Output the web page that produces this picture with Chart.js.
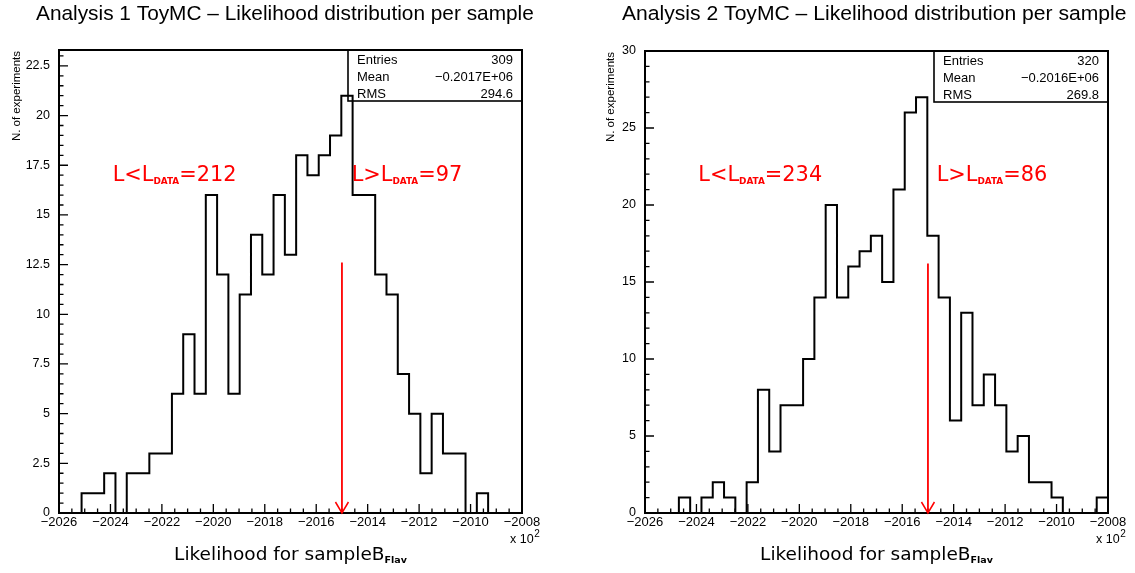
<!DOCTYPE html>
<html><head><meta charset="utf-8">
<script src="https://cdn.jsdelivr.net/npm/chart.js@4.4.0/dist/chart.umd.min.js"></script>
<style>
html,body{margin:0;padding:0;background:#fff;}
#wrap{position:relative;width:1135px;height:573px;overflow:hidden;background:#fff;}
canvas{position:absolute;top:0;}
</style></head><body>
<div id="wrap"><canvas id="c1" width="567" height="573" style="left:0"></canvas><canvas id="c2" width="568" height="573" style="left:567px"></canvas></div>
<script>
// ---------- data ----------
const titles = ['Analysis 1 ToyMC \u2013 Likelihood distribution per sample', 'Analysis 2 ToyMC \u2013 Likelihood distribution per sample'];
const xRange = [-2026, -2008];            // histogram range (x 10^2)
const xTicks = [-2026, -2024, -2022, -2020, -2018, -2016, -2014, -2012, -2010, -2008];
const yTicks1 = [0, 2.5, 5, 7.5, 10, 12.5, 15, 17.5, 20, 22.5];
const yTicks2 = [0, 5, 10, 15, 20, 25, 30];
const yMax = [23.3, 30];
const counts1 = [0,0,1,1,2,0,2,2,3,3,6,9,6,16,12,6,11,14,12,16,13,18,17,18,19,21,16,16,12,11,7,5,2,5,3,3,0,1,0,0,0];
const counts2 = [0,0,0,1,0,1,2,1,0,2,8,4,7,7,10,14,20,14,16,17,18,15,21,26,27,18,14,6,13,7,9,7,4,5,2,2,1,0,0,0,1];
const statNames = ['Entries', 'Mean', 'RMS'];
const stats1 = ['309', '\u22120.2017E+06', '294.6'];
const stats2 = ['320', '\u22120.2016E+06', '269.8'];
const cutValue = [-2015.0, -2015.0];
const arrowTop = [12.6, 16.2];
const nBelow = [212, 234];
const nAbove = [97, 86];
const xTitle = 'Likelihood for sampleB';
const xTitleSub = 'Flav';
const yTitle = 'N. of experiments';

// ---------- layout ----------
const SANS = "'Liberation Sans', Arial, sans-serif";
const GEO = "'DejaVu Sans', sans-serif";
const layout = [
  {canvas:'c1', counts:counts1, yTicks:yTicks1, yMinor:0.5, stats:stats1,
   pad:{left:0, top:50, right:45, bottom:0}, yW:59,
   titleX:36, titleW:498, yTitleX:20, belowX:112.7, aboveX:351.7},
  {canvas:'c2', counts:counts2, yTicks:yTicks2, yMinor:1, stats:stats2,
   pad:{left:0, top:51, right:27, bottom:0}, yW:78,
   titleX:55, titleW:505, yTitleX:47, belowX:131.3, aboveX:369.7}
];

function richWidth(ctx, parts, k) {
  let w = 0;
  for (const p of parts) { ctx.font = `${p.w||'normal'} ${p.s*k}px ${p.f||GEO}`; w += ctx.measureText(p.t).width; }
  return w;
}
function drawRich(ctx, x, y, parts, k, align) {
  const w = richWidth(ctx, parts, k);
  let cx = align === 'center' ? x - w/2 : x;
  ctx.textAlign = 'left'; ctx.textBaseline = 'alphabetic';
  for (const p of parts) {
    ctx.font = `${p.w||'normal'} ${p.s*k}px ${p.f||GEO}`;
    ctx.fillText(p.t, cx, y + (p.dy||0)*k);
    cx += ctx.measureText(p.t).width;
  }
}
function cutLabel(rel, n) {
  return [{t:'L' + rel + 'L', s:20}, {t:'DATA', s:8.5, w:'bold', dy:3.5}, {t:'=' + n, s:20}];
}

const rootPlugin = {
  id: 'rootStyle',
  afterDraw(chart, args, o) {
    const i = o.index, L = layout[i];
    const ctx = chart.ctx, a = chart.chartArea;
    const xs = chart.scales.x, ys = chart.scales.y;
    ctx.save();
    // frame
    ctx.strokeStyle = '#000'; ctx.lineWidth = 2;
    ctx.strokeRect(a.left, a.top, a.right - a.left, a.bottom - a.top);
    // ticks (inward)
    ctx.lineWidth = 1.3; ctx.beginPath();
    for (let k = 0; k * L.yMinor <= yMax[i] + 1e-9; k++) {
      const v = k * L.yMinor;
      const major = L.yTicks.some(t => Math.abs(t - v) < 1e-6);
      const y = ys.getPixelForValue(v);
      ctx.moveTo(a.left, y); ctx.lineTo(a.left + (major ? 9 : 4.5), y);
    }
    for (let k = 0; xRange[0] + k*0.5 <= xRange[1] + 1e-9; k++) {
      const v = xRange[0] + k*0.5;
      const major = xTicks.some(t => Math.abs(t - v) < 1e-6);
      const x = xs.getPixelForValue(v);
      ctx.moveTo(x, a.bottom); ctx.lineTo(x, a.bottom - (major ? 9 : 4.5));
    }
    ctx.stroke();
    // stats box
    const bx = a.right - 174, by = a.top, bh = 51;
    ctx.lineWidth = 1.6;
    ctx.strokeRect(bx, by, a.right - bx, bh);
    ctx.fillStyle = '#000'; ctx.font = `13px ${SANS}`; ctx.textBaseline = 'alphabetic';
    const rows = [14, 30.7, 48];
    statNames.forEach((n, r) => {
      ctx.textAlign = 'left'; ctx.fillText(n, bx + 9, by + rows[r]);
      ctx.textAlign = 'right'; ctx.fillText(L.stats[r], a.right - 9, by + rows[r]);
    });
    // arrow
    const ax = xs.getPixelForValue(cutValue[i]);
    const ay = ys.getPixelForValue(arrowTop[i]);
    ctx.strokeStyle = '#ff0000'; ctx.lineWidth = 1.8;
    ctx.beginPath(); ctx.moveTo(ax, ay); ctx.lineTo(ax, a.bottom); ctx.stroke();
    ctx.lineWidth = 1.5; ctx.beginPath();
    ctx.moveTo(ax - 6.5, a.bottom - 11); ctx.lineTo(ax, a.bottom); ctx.lineTo(ax + 6.5, a.bottom - 11); ctx.stroke();
    // red labels
    ctx.fillStyle = '#ff0000';
    const kLab = 124 / richWidth(ctx, cutLabel('<', 212), 1);
    drawRich(ctx, L.belowX, 180.7, cutLabel('<', nBelow[i]), kLab, 'left');
    drawRich(ctx, L.aboveX, 180.7, cutLabel('>', nAbove[i]), kLab, 'left');
    // title (sized to the reference width)
    ctx.fillStyle = '#000';
    const tParts = [{t:titles[i], s:1, f:SANS}];
    const kT = L.titleW / richWidth(ctx, tParts, 1);
    drawRich(ctx, L.titleX, 20, tParts, kT, 'left');
    // x title
    const xParts = [{t:xTitle, s:18.5}, {t:xTitleSub, s:9.5, w:'bold', dy:3}];
    drawRich(ctx, (a.left + a.right)/2, 560, xParts, 1, 'center');
    // x 10^2
    ctx.font = `12.5px ${SANS}`; ctx.textAlign = 'left';
    ctx.fillText('x 10', a.right - 12, 543);
    const w10 = ctx.measureText('x 10').width;
    ctx.font = `10px ${SANS}`; ctx.fillText('2', a.right - 12 + w10 + 0.5, 537);
    // y title
    ctx.save();
    ctx.translate(L.yTitleX, a.top + 1);
    ctx.rotate(-Math.PI/2);
    ctx.font = `11.5px ${SANS}`; ctx.textAlign = 'right'; ctx.textBaseline = 'alphabetic';
    ctx.fillText(yTitle, 0, 0);
    ctx.restore();
    ctx.restore();
  }
};

const bgPlugin = {
  id: 'bg',
  beforeDraw(chart) { const c = chart.ctx; c.save(); c.fillStyle = '#fff'; c.fillRect(0, 0, chart.width, chart.height); c.restore(); }
};

layout.forEach((L, i) => {
  const nb = L.counts.length;
  const bw = (xRange[1] - xRange[0]) / nb;
  const pts = L.counts.map((c, k) => ({x: xRange[0] + k * bw, y: c}));
  pts.push({x: xRange[1], y: L.counts[nb - 1]});
  pts.push({x: xRange[1], y: 0});
  new Chart(document.getElementById(L.canvas), {
    type: 'line',
    data: { datasets: [{ data: pts, stepped: true, borderColor: '#000', borderWidth: 2, pointRadius: 0, fill: false, tension: 0 }] },
    options: {
      responsive: false, animation: false, devicePixelRatio: 1,
      layout: { padding: L.pad },
      plugins: { legend: {display: false}, tooltip: {enabled: false}, rootStyle: {index: i} },
      scales: {
        x: {
          type: 'linear', min: xRange[0], max: xRange[1],
          grid: {display: false}, border: {display: false},
          afterBuildTicks: s => { s.ticks = xTicks.map(v => ({value: v})); },
          afterFit: s => { s.height = 60; },
          ticks: { autoSkip: false, maxRotation: 0, padding: -6, color: '#000',
            font: {family: SANS, size: 13},
            callback: v => (v < 0 ? '\u2212' : '') + Math.abs(v) }
        },
        y: {
          min: 0, max: yMax[i],
          grid: {display: false}, border: {display: false},
          afterBuildTicks: s => { s.ticks = L.yTicks.map(v => ({value: v})); },
          afterFit: s => { s.width = L.yW; },
          ticks: { padding: 1, color: '#000', font: {family: SANS, size: 12.5}, callback: v => String(v) }
        }
      }
    },
    plugins: [bgPlugin, rootPlugin]
  });
});
</script>
</body></html>
